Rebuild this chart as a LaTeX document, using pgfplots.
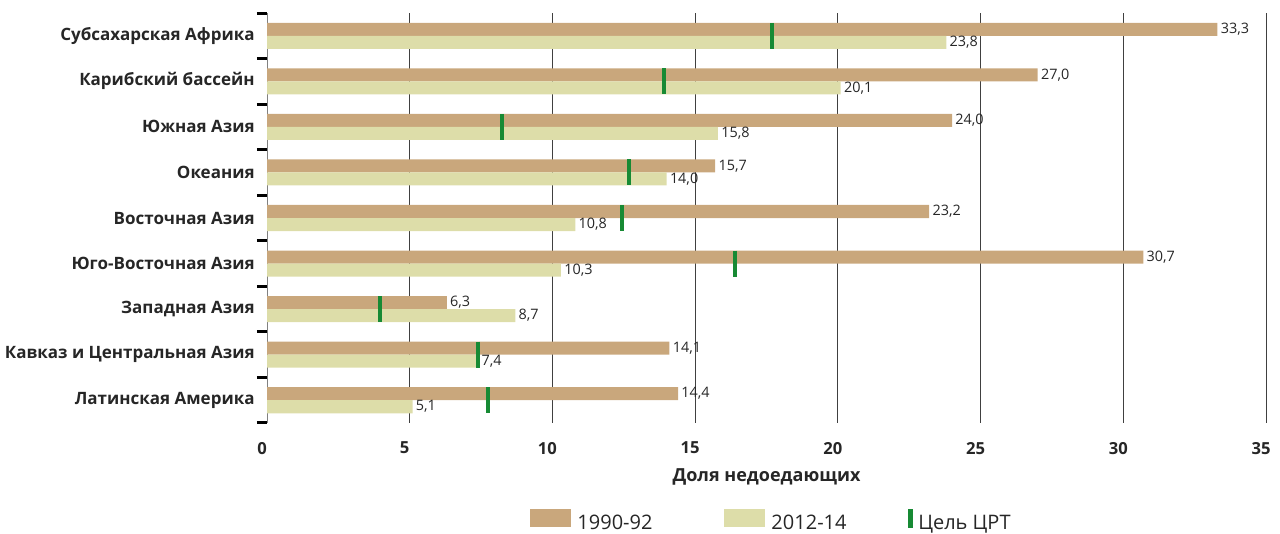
\documentclass[border=0pt]{standalone}
\usepackage{fontspec}
\setmainfont{Open Sans}
\usepackage{pgfplots}
\usepackage{pgfplotstable}
\pgfplotsset{compat=1.18}

\definecolor{cold}{HTML}{C9A77C}
\definecolor{cnew}{HTML}{DDDDA9}
\definecolor{cgoal}{HTML}{178A34}
\definecolor{ctext}{HTML}{262626}

% доля недоедающих, %, по регионам (0 = верхняя строка)
\pgfplotstableread{
idx old  new  goal
0   33.3 23.8 17.68
1   27.0 20.1 13.90
2   24.0 15.8 8.23
3   15.7 14.0 12.67
4   23.2 10.8 12.43
5   30.7 10.3 16.38
6   6.3  8.7  3.96
7   14.1 7.4  7.39
8   14.4 5.1  7.74
}\regions

\begin{document}
\begin{tikzpicture}
\path[use as bounding box] (0,0) rectangle (640pt,267pt);
\begin{axis}[
    at={(133.5pt,55.5pt)}, anchor=south west,
    scale only axis, width=499.5pt, height=205pt,
    xmin=0, xmax=35, ymin=-0.5, ymax=8.5,
    y dir=reverse,
    axis y line*=left, axis x line*=bottom,
    x axis line style={draw=none},
    y axis line style={draw=black!50, line width=0.5pt},
    /pgf/number format/assume math mode=true,
    xtick={0,5,...,35},
    xmajorgrids, grid style={black!75, line width=0.5pt},
    major tick length=0pt,
    minor tick length=5pt,
    tick align=outside,
    ytick={0,...,8},
    minor ytick={-0.5,0.5,...,8.5},
    minor y tick style={black, line width=1.5pt},
    yticklabels={Субсахарская Африка, Карибский бассейн, Южная Азия, Океания, Восточная Азия, Юго-Восточная Азия, Западная Азия, Кавказ и Центральная Азия, Латинская Америка},
    yticklabel style={font=\bfseries\fontsize{8.5}{10}\selectfont, text=ctext, inner xsep=0pt, xshift=-6pt},
    xticklabel style={font=\bfseries\fontsize{8.3}{10}\selectfont, text=ctext, xshift=-2.5pt, yshift=-6pt},
    xlabel={Доля недоедающих},
    xlabel style={font=\bfseries\fontsize{9}{11}\selectfont, text=ctext, anchor=center, at={(axis description cs:0.5,-0.131)}},
    bar width=0.286,
    bar shift=0pt,
    point meta=x,
    nodes near coords={\pgfmathprintnumber[fixed,fixed zerofill,precision=1,use comma]{\pgfplotspointmeta}},
    nodes near coords style={font=\fontsize{7.2}{8}\selectfont, text=ctext, anchor=west, inner xsep=1.5pt},
    legend style={at={(0.2633,-0.238)}, anchor=west, draw=none, fill=none, inner sep=0pt,
        legend columns=3, font=\fontsize{10}{12}\selectfont, text=ctext,
        nodes={inner sep=0pt},
        /tikz/every odd column/.append style={column sep=3pt},
        /tikz/every even column/.append style={column sep=30.5pt}},
]
\addplot[xbar, fill=cold, draw=none,
    legend image code/.code={\fill[cold] (0pt,-2pt) rectangle (20.5pt,7pt);}]
    table[x=old, y expr=\thisrow{idx}-0.143] {\regions};
\addlegendentry{1990-92\rule{5.5pt}{0pt}}
\addplot[xbar, fill=cnew, draw=none,
    legend image code/.code={\fill[cnew] (0pt,-2pt) rectangle (20.5pt,7pt);}]
    table[x=new, y expr=\thisrow{idx}+0.143] {\regions};
\addlegendentry{2012-14}
\addplot[only marks, mark=|, mark size=6.5pt, mark options={draw=cgoal, line width=2pt},
    nodes near coords={},
    legend image code/.code={\fill[cgoal] (0pt,-2pt) rectangle (2pt,7pt);}]
    table[x=goal, y=idx] {\regions};
\addlegendentry{Цель ЦРТ}
\end{axis}
\end{tikzpicture}
\end{document}
